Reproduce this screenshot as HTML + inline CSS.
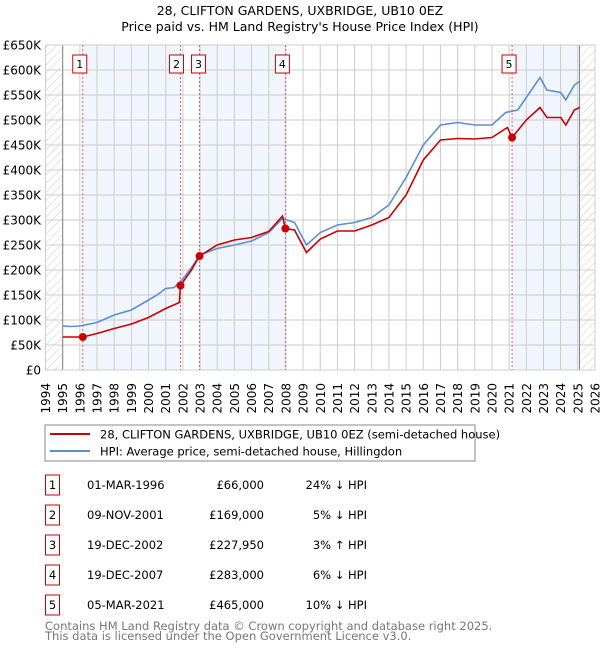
<!DOCTYPE html>
<html><head><meta charset="utf-8"><style>
body{margin:0;background:#fff;font-family:"Liberation Sans","DejaVu Sans",sans-serif}
svg text{font-family:"DejaVu Sans","Liberation Sans",sans-serif}
</style></head><body>
<svg id="c" width="600" height="650" xmlns="http://www.w3.org/2000/svg">
<defs><pattern id="hatch" width="6" height="6" patternUnits="userSpaceOnUse" patternTransform="rotate(45)"><line x1="0" y1="0" x2="0" y2="6" stroke="#ccc" stroke-width="1"/></pattern></defs>
<text x="300" y="15" text-anchor="middle" font-size="12.5">28, CLIFTON GARDENS, UXBRIDGE, UB10 0EZ</text>
<text x="300" y="31" text-anchor="middle" font-size="12.5">Price paid vs. HM Land Registry's House Price Index (HPI)</text>
<g id="plot"></g>
<rect x="45" y="425" width="430" height="36" fill="#fff" stroke="#888"/>
<line x1="50" y1="434" x2="90" y2="434" stroke="#cc0000" stroke-width="2"/>
<text x="100" y="438.5" font-size="11.5">28, CLIFTON GARDENS, UXBRIDGE, UB10 0EZ (semi-detached house)</text>
<line x1="50" y1="451" x2="90" y2="451" stroke="#5b8fd0" stroke-width="2"/>
<text x="100" y="455.5" font-size="11.5">HPI: Average price, semi-detached house, Hillingdon</text>
<g id="table"></g>
<text x="45" y="630" font-size="11.5" fill="#777">Contains HM Land Registry data © Crown copyright and database right 2025.</text>
<text x="45" y="640" font-size="11.5" fill="#777">This data is licensed under the Open Government Licence v3.0.</text>
</svg>
<script>
const hpiYears=[1995,1995.5,1996,1997,1998,1999,2000,2000.5,2001,2001.5,2002,2002.5,2003,2004,2005,2006,2007,2007.8,2008.5,2009.2,2010,2011,2012,2013,2014,2015,2016,2017,2018,2019,2020,2020.8,2021.5,2022,2022.8,2023.2,2024,2024.3,2024.8,2025.1];
const hpiValues=[88,87,88,95,110,120,140,150,163,165,182,205,230,243,250,258,275,303,295,250,275,290,295,305,330,385,450,490,495,490,490,515,520,545,585,560,555,540,570,577];
const priceYears=[1995,1996.17,1997,1998,1999,2000,2001,2001.8,2001.86,2002.5,2002.97,2004,2005,2006,2007,2007.8,2007.97,2008.5,2009.2,2010,2011,2012,2013,2014,2015,2016,2017,2018,2019,2020,2020.9,2021.17,2022,2022.8,2023.2,2024,2024.3,2024.8,2025.1];
const priceValues=[66,66,73,83,92,105,123,135,169,200,228,250,260,265,277,308,283,280,235,262,278,278,290,305,350,420,460,463,462,465,485,465,500,525,505,505,490,520,525];
const saleYears=[1996.17,2001.86,2002.97,2007.97,2021.17];
const saleValues=[66,169,227.95,283,465];
const saleLabels=["1","2","3","4","5"];
const saleDates=["01-MAR-1996","09-NOV-2001","19-DEC-2002","19-DEC-2007","05-MAR-2021"];
const salePrices=["£66,000","£169,000","£227,950","£283,000","£465,000"];
const saleHpi=["24% ↓ HPI","5% ↓ HPI","3% ↑ HPI","6% ↓ HPI","10% ↓ HPI"];
const yTicks=[0,50,100,150,200,250,300,350,400,450,500,550,600,650];
const yTickLabels=["£0","£50K","£100K","£150K","£200K","£250K","£300K","£350K","£400K","£450K","£500K","£550K","£600K","£650K"];
const X0=45.5,X1=595,Y0=370,Y1=45;
const xs=y=>X0+(y-1994)/32*(X1-X0);
const ys=v=>Y0-v/650*(Y0-Y1);
const NS="http://www.w3.org/2000/svg";
const plot=document.getElementById('plot');
function mk(tag,at,parent){const e=document.createElementNS(NS,tag);for(const k in at)e.setAttribute(k,at[k]);(parent||plot).appendChild(e);return e;}
let e;
e=mk('rect',{x:X0,y:Y1,width:X1-X0,height:Y0-Y1,fill:'#fff'});


// shaded bands
const bands=[[0,1],[2,3],[4,null]];
bands.forEach((b,i)=>{const a=xs(saleYears[b[0]]);const z=b[1]===null?xs(2025.1):xs(saleYears[b[1]]);
e=mk('rect',{x:a,y:Y1,width:z-a,height:Y0-Y1,fill:'#eef3fc',opacity:0.8});

});
// hatch
e=mk('rect',{x:X0,y:Y1,width:xs(1995)-X0,height:Y0-Y1,fill:'url(#hatch)'});


e=mk('rect',{x:xs(2025.1),y:Y1,width:X1-xs(2025.1),height:Y0-Y1,fill:'url(#hatch)'});


// grid
yTicks.forEach((t,i)=>{e=mk('line',{x1:X0,x2:X1,y1:ys(t),y2:ys(t),stroke:'#ccc','stroke-width':1});


e=mk('text',{x:41,y:ys(t)+4.5,'text-anchor':'end','font-size':12});e.textContent=yTickLabels[i];

});
for(let y=1994;y<=2026;y++){e=mk('line',{x1:xs(y),x2:xs(y),y1:Y1,y2:Y0,stroke:'#ccc','stroke-width':1});


e=mk('text',{x:0,y:0,'text-anchor':'end','font-size':12,transform:`translate(${xs(y)+4.5},383) rotate(-90)`});e.textContent=y;

}
e=mk('line',{x1:xs(1995),x2:xs(1995),y1:Y1,y2:Y0,stroke:'#888'});


e=mk('line',{x1:xs(2025.1),x2:xs(2025.1),y1:Y1,y2:Y0,stroke:'#888'});


e=mk('rect',{x:X0,y:Y1,width:X1-X0,height:Y0-Y1,fill:'none',stroke:'#ccc'});


// sale lines
saleYears.forEach((s,i)=>{e=mk('line',{x1:xs(s),x2:xs(s),y1:Y1,y2:Y0,stroke:'#e06060','stroke-dasharray':'2,2','stroke-width':1});


const bx=xs(s)-(i==1?9:(i==2?-4:6))-(i==1?0:0);
const cx=i==1?xs(s)-4:(i==2?xs(s)-1:xs(s)-3);
e=mk('rect',{x:cx-7,y:55,width:14,height:18,fill:'#fff',stroke:'#cc0000'});


e=mk('text',{x:cx,y:68,'text-anchor':'middle','font-size':11});e.textContent=saleLabels[i];

});
function path(xa,va,col,name){e=mk('polyline',{points:xa.map((x,i)=>xs(x).toFixed(1)+','+ys(va[i]).toFixed(1)).join(' '),fill:'none',stroke:col,'stroke-width':1.6});

}
path(hpiYears,hpiValues,'#5b8fd0','hpi-line');
path(priceYears,priceValues,'#cc0000','price-line');
saleYears.forEach((s,i)=>{e=mk('circle',{cx:xs(s),cy:ys(saleValues[i]),r:4,fill:'#cc0000'});

});
// table
const tb=document.getElementById('table');
saleLabels.forEach((l,i)=>{const cy=485+i*30;
e=mk('rect',{x:45.5,y:cy-10,width:14,height:20,fill:'#fff',stroke:'#cc0000'},tb);


e=mk('text',{x:52.5,y:cy+4,'text-anchor':'middle','font-size':11.5},tb);e.textContent=l;


e=mk('text',{x:87,y:cy+4,'font-size':11.5},tb);e.textContent=saleDates[i];


e=mk('text',{x:264,y:cy+4,'text-anchor':'end','font-size':11.5},tb);e.textContent=salePrices[i];


e=mk('text',{x:367,y:cy+4,'text-anchor':'end','font-size':11.5},tb);e.textContent=saleHpi[i];

});
</script>
</body></html>
